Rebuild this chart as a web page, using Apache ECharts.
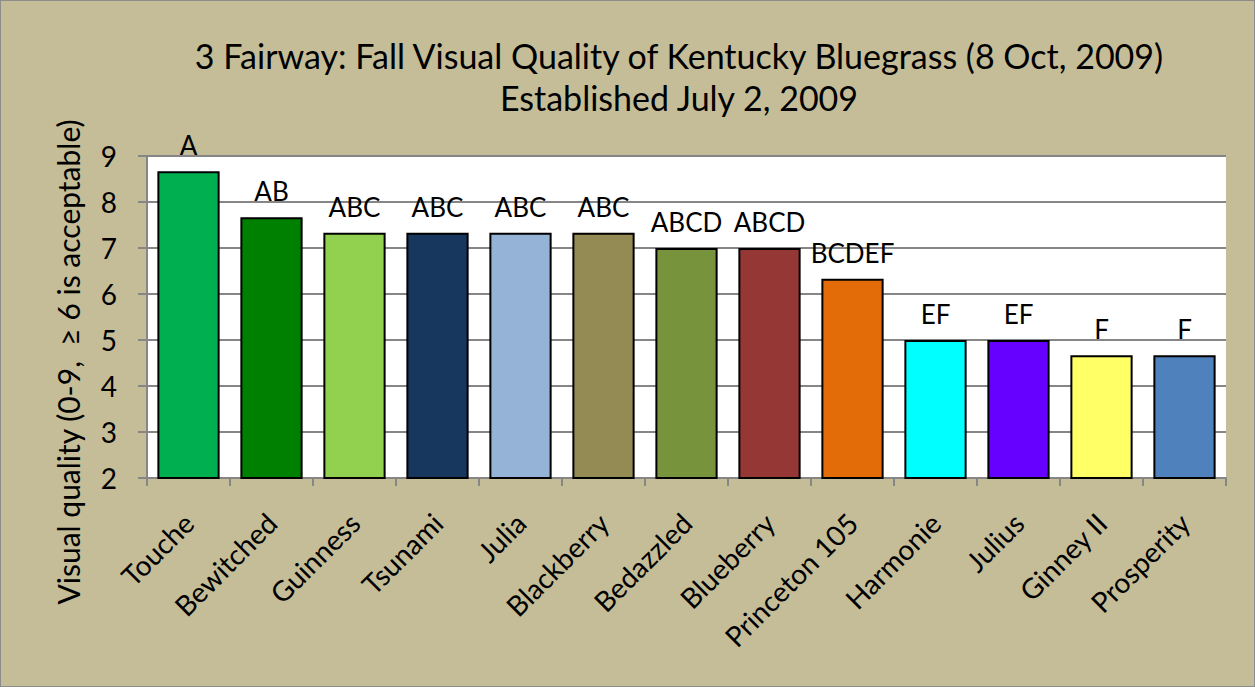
<!DOCTYPE html>
<html>
<head>
<meta charset="utf-8">
<script src="https://cdn.jsdelivr.net/npm/echarts@6/dist/echarts.min.js"></script>
<style>
  html, body { margin: 0; padding: 0; background: #C4BD97; }
  #main { width: 1255px; height: 687px; box-sizing: border-box; border: 1px solid #8c8c8c; }
</style>
</head>
<body>
<div id="main"></div>
<script>
var cultivars = ['Touche', 'Bewitched', 'Guinness', 'Tsunami', 'Julia', 'Blackberry', 'Bedazzled',
  'Blueberry', 'Princeton 105', 'Harmonie', 'Julius', 'Ginney II', 'Prosperity'];
var quality = [8.67, 7.67, 7.33, 7.33, 7.33, 7.33, 7.0, 7.0, 6.33, 5.0, 5.0, 4.67, 4.67];
var letters = ['A', 'AB', 'ABC', 'ABC', 'ABC', 'ABC', 'ABCD', 'ABCD', 'BCDEF', 'EF', 'EF', 'F', 'F'];
var barColors = ['#00B050', '#008000', '#92D050', '#17375E', '#95B3D7', '#948A54', '#77933C',
  '#953735', '#E36C09', '#00FFFF', '#6600FF', '#FFFF66', '#4F81BD'];

var chart = echarts.init(document.getElementById('main'), null, { renderer: 'svg' });

var fontFam = 'Lato, "Open Sans", sans-serif';

var option = {
  backgroundColor: '#C4BD97',
  animation: false,
  textStyle: { fontFamily: fontFam },
  title: {
    text: '3 Fairway: Fall Visual Quality of Kentucky Bluegrass (8 Oct, 2009)\nEstablished July 2, 2009',
    left: 673,
    top: 28,
    textAlign: 'center',
    textStyle: { fontSize: 34, fontWeight: 'normal', color: '#000', lineHeight: 42, fontFamily: fontFam }
  },
  grid: { left: 146, right: 28, top: 155, bottom: 208, show: true, backgroundColor: '#fff', borderWidth: 0 },
  xAxis: {
    type: 'category',
    data: cultivars,
    axisLine: { lineStyle: { color: '#868686', width: 2 } },
    axisTick: { show: true, length: 8, lineStyle: { color: '#868686', width: 2 } },
    axisLabel: { rotate: 45, fontSize: 28, color: '#000', margin: 40, interval: 0 }
  },
  yAxis: {
    type: 'value',
    min: 2,
    max: 9,
    interval: 1,
    name: 'Visual quality (0-9,  \u2265 6 is acceptable)',
    nameLocation: 'middle',
    nameGap: 64,
    nameTextStyle: { fontSize: 30, color: '#000', padding: [0, 90, 0, 0] },
    axisLine: { show: true, lineStyle: { color: '#868686', width: 2 } },
    axisTick: { show: true, length: 9, lineStyle: { color: '#868686', width: 2 } },
    axisLabel: { fontSize: 28, color: '#000', margin: 30 },
    splitLine: { lineStyle: { color: '#868686', width: 2 } }
  },
  series: [{
    type: 'bar',
    barCategoryGap: '25%',
    data: quality.map(function (v, i) {
      return { value: v, itemStyle: { color: barColors[i] } };
    }),
    itemStyle: { borderColor: '#000', borderWidth: 2 },
    label: {
      show: true,
      position: 'top',
      distance: 13,
      fontSize: 26,
      color: '#000',
      formatter: function (p) { return letters[p.dataIndex]; }
    }
  }]
};

chart.setOption(option);
</script>
</body>
</html>
